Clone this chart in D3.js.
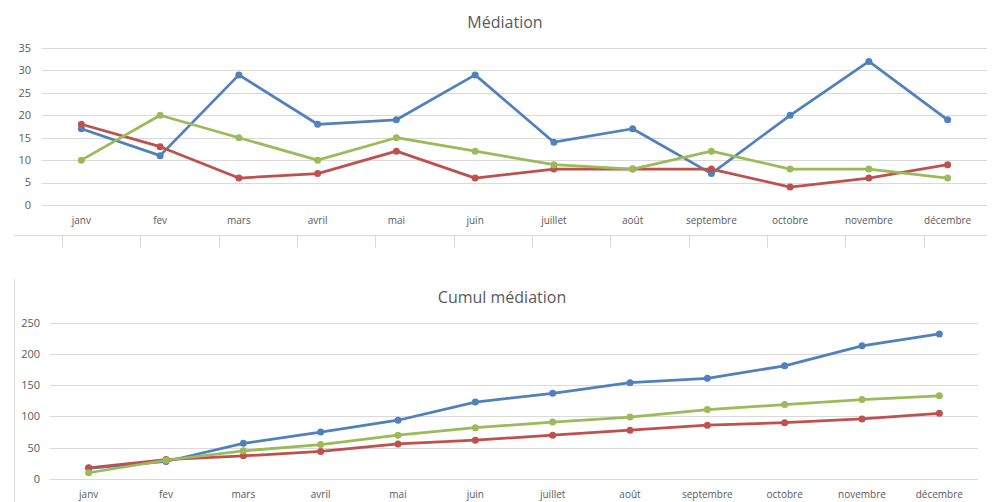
<!DOCTYPE html>
<html>
<head>
<meta charset="utf-8">
<script src="https://cdn.jsdelivr.net/npm/d3@7"></script>
<style>
  body { margin: 0; background: #fff; }
  text { font-family: "Open Sans", sans-serif; fill: #595959; }
</style>
</head>
<body>
<div id="chart"></div>
<script>
// months
var months = ["janv", "fev", "mars", "avril", "mai", "juin", "juillet", "août", "septembre", "octobre", "novembre", "décembre"];

// monthly values (top chart)
var blueMonthly  = [17, 11, 29, 18, 19, 29, 14, 17, 7, 20, 32, 19];
var redMonthly   = [18, 13, 6, 7, 12, 6, 8, 8, 8, 4, 6, 9];
var greenMonthly = [10, 20, 15, 10, 15, 12, 9, 8, 12, 8, 8, 6];

// cumulated values (bottom chart)
var blueCumul  = [17, 28, 57, 75, 94, 123, 137, 154, 161, 181, 213, 232];
var redCumul   = [18, 31, 37, 44, 56, 62, 70, 78, 86, 90, 96, 105];
var greenCumul = [10, 30, 45, 55, 70, 82, 91, 99, 111, 119, 127, 133];

var topTicks = [0, 5, 10, 15, 20, 25, 30, 35];
var bottomTicks = [0, 50, 100, 150, 200, 250];

var colors = ["#4F81BD", "#C0504D", "#9BBB59"];

var svg = d3.select("#chart")
  .append("svg")
    .attr("width", 992)
    .attr("height", 502);

// leftover frame lines from the sheet
var deco = svg.append("g").attr("stroke", "#d9d9d9").attr("fill", "none");
deco.append("line").attr("x1", 14).attr("x2", 987).attr("y1", 235.5).attr("y2", 235.5);
var xDeco = d3.scaleBand().domain(months).range([62, 1002]);
deco.selectAll(".dtick")
  .data(months)
  .enter()
  .append("line")
    .attr("x1", function(d) { return Math.round(xDeco(d)) + 0.5; })
    .attr("x2", function(d) { return Math.round(xDeco(d)) + 0.5; })
    .attr("y1", 235.5)
    .attr("y2", 248);
deco.append("line").attr("x1", 14.5).attr("x2", 14.5).attr("y1", 279).attr("y2", 502);

function drawChart(opt) {
  var g = svg.append("g");

  var x = d3.scaleBand()
    .domain(months)
    .range([opt.left, opt.right]);

  var y = d3.scaleLinear()
    .domain([0, opt.max])
    .range([opt.bottom, opt.top]);

  // gridlines
  g.selectAll(".grid")
    .data(opt.ticks)
    .enter()
    .append("line")
      .attr("x1", opt.left)
      .attr("x2", opt.right)
      .attr("y1", function(d) { return Math.round(y(d)) + 0.5; })
      .attr("y2", function(d) { return Math.round(y(d)) + 0.5; })
      .attr("stroke", "#d9d9d9")
      .attr("stroke-width", 1);

  // y tick labels
  g.selectAll(".ylab")
    .data(opt.ticks)
    .enter()
    .append("text")
      .attr("x", opt.left - opt.labelGap)
      .attr("y", function(d) { return y(d); })
      .attr("dy", "0.35em")
      .attr("text-anchor", "end")
      .style("font-size", "11px")
      .text(function(d) { return d; });

  // x labels
  g.selectAll(".xlab")
    .data(months)
    .enter()
    .append("text")
      .attr("x", function(d) { return x(d) + x.bandwidth() / 2; })
      .attr("y", opt.bottom + 15)
      .attr("dy", "0.35em")
      .attr("text-anchor", "middle")
      .style("font-size", "10px")
      .text(function(d) { return d; });

  // title
  g.append("text")
    .attr("x", opt.titleX)
    .attr("y", opt.titleY)
    .attr("text-anchor", "middle")
    .style("font-size", "16px")
    .text(opt.title);

  var line = d3.line()
    .x(function(d, i) { return x(months[i]) + x.bandwidth() / 2; })
    .y(function(d) { return y(d); });

  opt.series.forEach(function(s, k) {
    g.append("path")
      .datum(s)
      .attr("fill", "none")
      .attr("stroke", colors[k])
      .attr("stroke-width", 2.75)
      .attr("stroke-linejoin", "round")
      .attr("d", line);

    g.selectAll(".pt" + k)
      .data(s)
      .enter()
      .append("circle")
        .attr("cx", function(d, i) { return x(months[i]) + x.bandwidth() / 2; })
        .attr("cy", function(d) { return y(d); })
        .attr("r", 3.5)
        .attr("fill", colors[k]);
  });
}

drawChart({
  left: 42, right: 987, top: 48, bottom: 205, max: 35,
  ticks: topTicks, labelGap: 11,
  title: "Médiation", titleX: 505, titleY: 28,
  series: [blueMonthly, redMonthly, greenMonthly]
});

drawChart({
  left: 50, right: 978, top: 322.7, bottom: 479, max: 250,
  ticks: bottomTicks, labelGap: 10,
  title: "Cumul médiation", titleX: 502, titleY: 303,
  series: [blueCumul, redCumul, greenCumul]
});
</script>
</body>
</html>
